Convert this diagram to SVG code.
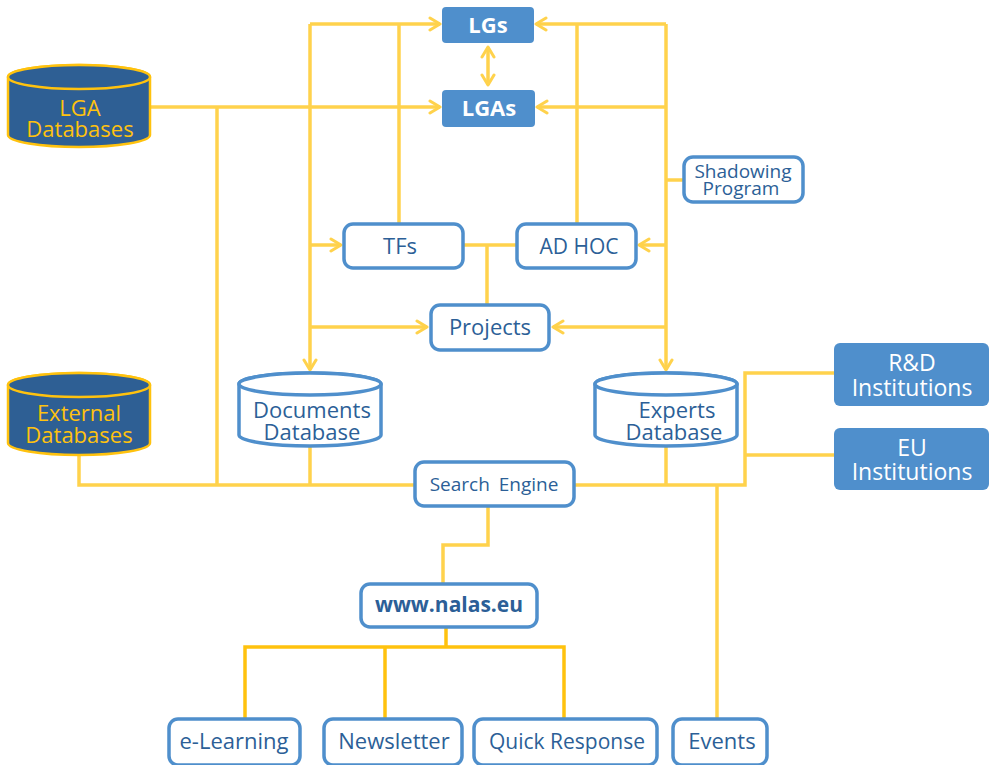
<svg xmlns="http://www.w3.org/2000/svg" width="989" height="765" viewBox="0 0 989 765">
<defs>
<marker id="ah" markerUnits="userSpaceOnUse" markerWidth="14" markerHeight="16" viewBox="0 0 14 16" refX="12" refY="8" orient="auto-start-reverse">
<path d="M2,2 L12,8 L2,14" fill="none" stroke="#FFD24C" stroke-width="3" stroke-linecap="round" stroke-linejoin="round"/>
</marker>
</defs>
<style>
.ln{fill:none;stroke:#FFD24C;stroke-width:3.5}
.lo{fill:none;stroke:#FFC20E;stroke-width:3.5}
.box{fill:#fff;stroke:#4F8FCC;stroke-width:3.5}
.fbox{fill:#4F8FCC;stroke:none}
text{font-family:"Open Sans","Noto Sans","DejaVu Sans",sans-serif;text-anchor:middle}
.t{fill:#2C5F97}
.tw{fill:#fff}
.ty{fill:#FFC20E}
.cyl{fill:#2E5F94;stroke:#FFC20E;stroke-width:2.5}
.cylw{fill:#fff;stroke:#4F8FCC;stroke-width:3.5}
</style>
<rect width="989" height="765" fill="#fff"/>
<g id="connectors">
<path class="ln" d="M310,24 H440" marker-end="url(#ah)"/>
<path class="ln" d="M666,24 H536" marker-end="url(#ah)"/>
<path class="ln" d="M310,24 V370" marker-end="url(#ah)"/>
<path class="ln" d="M666,24 V370" marker-end="url(#ah)"/>
<path class="ln" d="M399,24 V223"/>
<path class="ln" d="M577,24 V223"/>
<path class="ln" d="M488,47 V85" marker-start="url(#ah)" marker-end="url(#ah)"/>
<path class="ln" d="M150,107 H440" marker-end="url(#ah)"/>
<path class="ln" d="M666,107 H537" marker-end="url(#ah)"/>
<path class="ln" d="M217,107 V485"/>
<path class="ln" d="M666,180 H683"/>
<path class="ln" d="M310,245 H341" marker-end="url(#ah)"/>
<path class="ln" d="M666,245 H639" marker-end="url(#ah)"/>
<path class="ln" d="M463,245 H516"/>
<path class="ln" d="M487,245 V305"/>
<path class="ln" d="M310,327 H427" marker-end="url(#ah)"/>
<path class="ln" d="M666,327 H553" marker-end="url(#ah)"/>
<path class="ln" d="M79,455 V485 H414"/>
<path class="ln" d="M310,446 V485"/>
<path class="ln" d="M575,485 H745 V373 H834"/>
<path class="ln" d="M745,455 H834"/>
<path class="ln" d="M666,446 V485"/>
<path class="ln" d="M717,485 V718"/>
<path class="ln" d="M488,507 V545 H443 V583"/>
<path class="lo" d="M446,628 V647"/>
<path class="lo" d="M245,718 V647 H564 V718"/>
<path class="lo" d="M385,647 V718"/>
</g>
<g id="lgs"><rect class="fbox" x="442" y="7" width="92" height="36" rx="4"/><text class="tw" x="488" y="33" font-size="22" font-weight="bold">LGs</text></g>
<g id="lgas"><rect class="fbox" x="442" y="90" width="93" height="37" rx="4"/><text class="tw" x="489" y="116" font-size="22" font-weight="bold">LGAs</text></g>
<g id="lga-databases">
<path class="cyl" d="M8,77 V135 A71,12 0 0 0 150,135 V77 A71,12 0 0 0 8,77 Z"/>
<ellipse class="cyl" cx="79" cy="77" rx="71" ry="12"/>
<text class="ty" font-size="22"><tspan x="80" y="116">LGA</tspan><tspan x="80" y="137">Databases</tspan></text>
</g>
<g id="shadowing"><rect class="box" x="684" y="157" width="119" height="45" rx="9"/><text class="t" font-size="19"><tspan x="743" y="178">Shadowing</tspan><tspan x="741" y="195">Program</tspan></text></g>
<g id="tfs"><rect class="box" x="344" y="224" width="119" height="44" rx="9"/><text class="t" x="400" y="254" font-size="22">TFs</text></g>
<g id="adhoc"><rect class="box" x="517" y="224" width="119" height="44" rx="9"/><text class="t" x="579" y="254" font-size="21">AD HOC</text></g>
<g id="projects"><rect class="box" x="431" y="305" width="118" height="45" rx="9"/><text class="t" x="490" y="335" font-size="22">Projects</text></g>
<g id="external-databases">
<path class="cyl" d="M8,385 V443 A71,12 0 0 0 150,443 V385 A71,12 0 0 0 8,385 Z"/>
<ellipse class="cyl" cx="79" cy="385" rx="71" ry="12"/>
<text class="ty" font-size="22"><tspan x="79" y="421">External</tspan><tspan x="79" y="443">Databases</tspan></text>
</g>
<g id="documents-database">
<path class="cylw" d="M239,384 V435 A71,11 0 0 0 381,435 V384 A71,11 0 0 0 239,384 Z"/>
<ellipse class="cylw" cx="310" cy="384" rx="71" ry="11"/>
<text class="t" font-size="22"><tspan x="312" y="418">Documents</tspan><tspan x="312" y="440">Database</tspan></text>
</g>
<g id="experts-database">
<path class="cylw" d="M595,384 V435 A71,11 0 0 0 737,435 V384 A71,11 0 0 0 595,384 Z"/>
<ellipse class="cylw" cx="666" cy="384" rx="71" ry="11"/>
<text class="t" font-size="22"><tspan x="677" y="418">Experts</tspan><tspan x="674" y="440">Database</tspan></text>
</g>
<g id="rd"><rect class="fbox" x="834" y="343" width="155" height="63" rx="6"/><text class="tw" font-size="23"><tspan x="912" y="371">R&amp;D</tspan><tspan x="912" y="396">Institutions</tspan></text></g>
<g id="eu"><rect class="fbox" x="834" y="428" width="155" height="62" rx="6"/><text class="tw" font-size="23"><tspan x="912" y="456">EU</tspan><tspan x="912" y="480">Institutions</tspan></text></g>
<g id="search"><rect class="box" x="415" y="462" width="159" height="44" rx="9"/><text class="t" x="494" y="491" font-size="19" word-spacing="4">Search Engine</text></g>
<g id="www"><rect class="box" x="361" y="584" width="176" height="43" rx="9"/><text class="t" x="449" y="612" font-size="21" font-weight="bold">www.nalas.eu</text></g>
<g id="elearning"><rect class="box" x="169" y="719" width="131" height="46" rx="9"/><text class="t" x="234" y="749" font-size="22">e-Learning</text></g>
<g id="newsletter"><rect class="box" x="324" y="719" width="138" height="46" rx="9"/><text class="t" x="394" y="749" font-size="22">Newsletter</text></g>
<g id="quick"><rect class="box" x="474" y="719" width="183" height="46" rx="9"/><text class="t" x="567" y="749" font-size="21">Quick Response</text></g>
<g id="events"><rect class="box" x="673" y="719" width="94" height="46" rx="9"/><text class="t" x="722" y="749" font-size="22">Events</text></g>
</svg>
